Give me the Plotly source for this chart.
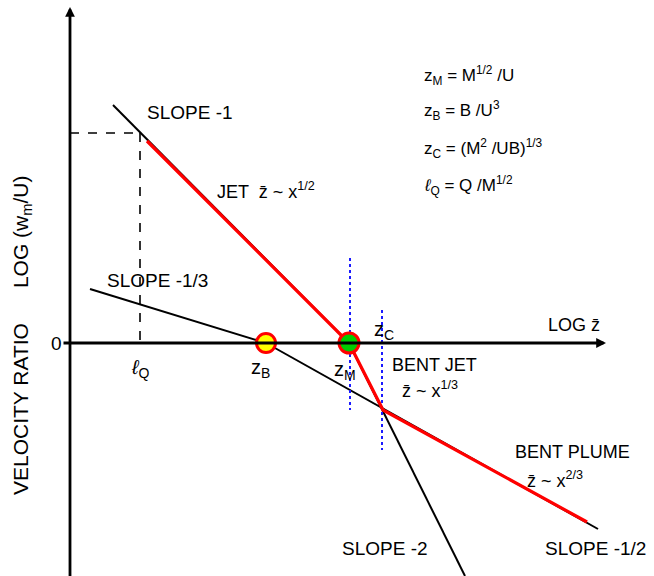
import plotly.graph_objects as go

# Log-log sketch of jet/plume velocity decay in a crossflow (units: log lengths)
log_lQ, log_zB, log_zM, log_zC = 0.70, 1.96, 2.79, 3.13

# asymptotic straight-line regimes (x = log z, y = log(w_m/U))
slope_m1_x, slope_m1_y = [0.43, log_zM], [2.38, 0.0]          # jet, slope -1
slope_m13_x, slope_m13_y = [0.20, log_zB], [0.54, 0.0]        # slope -1/3
slope_m2_x, slope_m2_y = [log_zM, 3.95], [0.0, -2.33]         # slope -2
slope_m12_x, slope_m12_y = [log_zB, 5.28], [0.0, -1.86]       # slope -1/2

# composite path actually followed
path_x = [0.77, log_zM, log_zC, 5.17]
path_y = [2.02, 0.0, -0.67, -1.79]

# reference level for the dashed guide at l_Q
guide_y = 2.10

# dotted markers of the transition scales
zM_mark_y = [0.85, -0.67]
zC_mark_y = [0.33, -1.07]

FONT = "Liberation Sans"

fig = go.Figure()

def line(xs, ys, color="black", width=2.0, dash="solid"):
    fig.add_trace(go.Scatter(x=xs, y=ys, mode="lines",
                             line=dict(color=color, width=width, dash=dash),
                             hoverinfo="skip", showlegend=False))

line(slope_m1_x, slope_m1_y)
line(slope_m13_x, slope_m13_y)
line(slope_m2_x, slope_m2_y)
line(slope_m12_x, slope_m12_y)
line([0, log_lQ], [guide_y, guide_y], dash="dash", width=1.6)
line([log_lQ, log_lQ], [guide_y, 0], dash="dash", width=1.6)
line([log_zM + 0.01, log_zM + 0.01], zM_mark_y, color="#1a1aff", width=2, dash="dot")
line([log_zC - 0.01, log_zC - 0.01], zC_mark_y, color="#1a1aff", width=2, dash="dot")
line(path_x, path_y, color="#ff0000", width=3.2)

# axes drawn as arrows
fig.add_annotation(x=0, y=3.36, ax=0, ay=-2.4, xref="x", yref="y", axref="x", ayref="y",
                   showarrow=True, arrowhead=2, arrowsize=0.7, arrowwidth=2.8,
                   arrowcolor="black", text="")
fig.add_annotation(x=5.36, y=0, ax=-0.08, ay=0, xref="x", yref="y", axref="x", ayref="y",
                   showarrow=True, arrowhead=2, arrowsize=0.7, arrowwidth=2.8,
                   arrowcolor="black", text="")

# transition points
fig.add_trace(go.Scatter(x=[log_zB], y=[0], mode="markers",
                         marker=dict(size=19, color="#ffff00", line=dict(color="#ff0000", width=3)),
                         hoverinfo="skip", showlegend=False))
fig.add_trace(go.Scatter(x=[log_zM], y=[0], mode="markers",
                         marker=dict(size=20, color="#00cc00", line=dict(color="#ff0000", width=3)),
                         hoverinfo="skip", showlegend=False))

def label(x, y, text, size=18, xanchor="left", angle=0):
    fig.add_annotation(x=x, y=y, text=text, showarrow=False, xanchor=xanchor,
                       yanchor="middle", textangle=angle,
                       font=dict(family=FONT, size=size, color="black"))

ZB = "z\u0304"
label(0.75, 2.31, "SLOPE -1", size=19)
label(1.45, 1.53, f"JET  {ZB} ~ x<sup>1/2</sup>")
label(0.35, 0.63, "SLOPE -1/3", size=19)
label(-0.06, 0.0, "0", size=19, xanchor="right")
label(log_lQ, -0.25, "<i>\u2113</i><sub>Q</sub>", size=20, xanchor="center")
label(1.90, -0.25, "z<sub>B</sub>", size=20, xanchor="center")
label(2.75, -0.27, "z<sub>M</sub>", size=20, xanchor="center")
label(3.14, 0.13, "z<sub>C</sub>", size=20, xanchor="center")
label(5.04, 0.18, f"LOG {ZB}", xanchor="center")
label(3.20, -0.22, "BENT JET")
label(3.30, -0.46, f"{ZB} ~ x<sup>1/3</sup>")
label(4.43, -1.09, "BENT PLUME")
label(4.55, -1.36, f"{ZB} ~ x<sup>2/3</sup>")
label(2.70, -2.05, "SLOPE -2", size=19)
label(4.73, -2.05, "SLOPE -1/2", size=19)

label(3.52, 2.68, "z<sub>M</sub> = M<sup>1/2</sup> /U", size=17)
label(3.52, 2.33, "z<sub>B</sub> = B /U<sup>3</sup>", size=17)
label(3.52, 1.95, "z<sub>C</sub> = (M<sup>2</sup> /UB)<sup>1/3</sup>", size=17)
label(3.52, 1.58, "<i>\u2113</i><sub>Q</sub> = Q /M<sup>1/2</sup>", size=17)

label(-0.48, 0.08, "VELOCITY RATIO      LOG (w<sub>m</sub>/U)", size=21,
      xanchor="center", angle=-90)

fig.update_layout(
    width=654, height=576,
    margin=dict(l=0, r=0, t=0, b=0),
    paper_bgcolor="white", plot_bgcolor="white",
    xaxis=dict(range=[-0.70, 5.84], visible=False, fixedrange=True),
    yaxis=dict(range=[-2.33, 3.43], visible=False, fixedrange=True),
)

fig.write_html("out.html")
